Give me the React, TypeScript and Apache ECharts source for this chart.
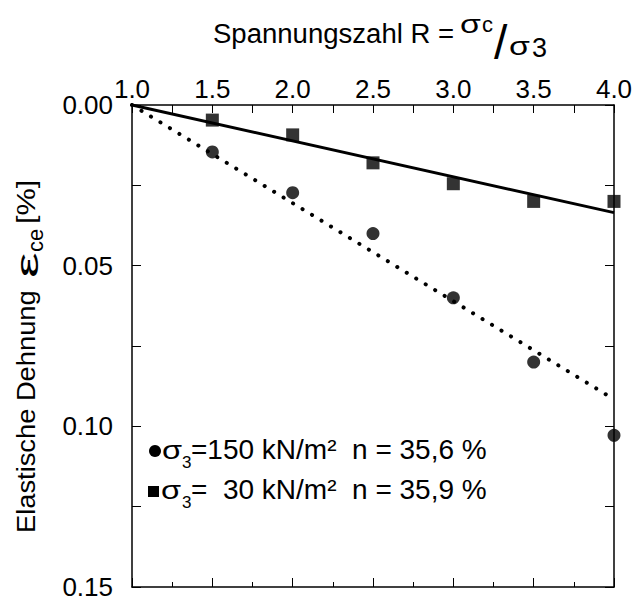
import React, { useEffect, useRef } from "react";
import * as echarts from "echarts";

// Spannungszahl R (x) values
const ratios = [1.5, 2.0, 2.5, 3.0, 3.5, 4.0];
// σ3 = 150 kN/m² (circles), elastic strain [%]
const strain150 = [0.0146, 0.0273, 0.040, 0.060, 0.080, 0.1028];
// σ3 = 30 kN/m² (squares), elastic strain [%]
const strain30 = [0.0047, 0.0093, 0.018, 0.0245, 0.030, 0.030];
// fit lines (endpoints)
const fitX = [1.0, 4.0];
const fit150 = [0.0, 0.0916];
const fit30 = [0.0, 0.0335];
// axis ticks
const xTicks = [1.0, 1.5, 2.0, 2.5, 3.0, 3.5, 4.0];
const yTicks = [0.0, 0.05, 0.1, 0.15];
const legendLabels = ["=150 kN/m²  n = 35,6 %", "=  30 kN/m²  n = 35,9 %"];

const FONT = "'Liberation Sans', Arial, sans-serif";

export default function App() {
  const ref = useRef<HTMLDivElement>(null);
  useEffect(() => {
    if (!ref.current) return;
    const chart = echarts.init(ref.current, null, { renderer: "svg" });
    const black = "#000";
    const t = (text: string, x: number, y: number, size: number, extra: any = {}) => ({
      type: "text",
      x,
      y,
      ...extra,
      style: {
        text,
        fill: black,
        font: `${size}px ${FONT}`,
        textAlign: "left",
        textVerticalAlign: "middle",
      },
    });
    const rot = Math.PI / 2;
    const commonX = {
      type: "value",
      min: xTicks[0],
      max: xTicks[xTicks.length - 1],
      interval: 0.5,
      splitLine: { show: false },
      axisLine: { show: true, onZero: false, lineStyle: { color: black, width: 1.5 } },
    };
    const commonY = {
      type: "value",
      inverse: true,
      min: yTicks[0],
      max: yTicks[yTicks.length - 1],
      interval: 0.05,
      splitLine: { show: false },
      axisLine: { show: true, onZero: false, lineStyle: { color: black, width: 1.5 } },
    };
    chart.setOption({
      animation: false,
      backgroundColor: "#fff",
      grid: { left: 132, right: 25, top: 105, bottom: 11, containLabel: false },
      xAxis: [
        {
          ...commonX,
          position: "top",
          axisTick: { show: true, inside: true, length: 8, lineStyle: { color: black, width: 1 } },
          minorTick: { show: true, splitNumber: 2, length: 8, lineStyle: { color: black, width: 1 } },
          axisLabel: {
            show: true,
            margin: 6,
            color: black,
            fontSize: 26,
            lineHeight: 20,
            fontFamily: FONT,
            formatter: (v: number) => v.toFixed(1),
          },
        },
        {
          ...commonX,
          position: "bottom",
          axisTick: { show: true, inside: true, length: 9, lineStyle: { color: black, width: 1 } },
          minorTick: { show: true, splitNumber: 2, length: 5, lineStyle: { color: black, width: 1 } },
          axisLabel: { show: false },
        },
      ],
      yAxis: [
        {
          ...commonY,
          position: "left",
          axisTick: { show: true, inside: true, length: 9, lineStyle: { color: black, width: 1 } },
          minorTick: { show: true, splitNumber: 2, length: 9, lineStyle: { color: black, width: 1 } },
          axisLabel: {
            show: true,
            margin: 19,
            color: black,
            fontSize: 26,
            lineHeight: 20,
            fontFamily: FONT,
            formatter: (v: number) => v.toFixed(2),
          },
        },
        {
          ...commonY,
          position: "right",
          axisTick: { show: true, inside: true, length: 9, lineStyle: { color: black, width: 1 } },
          minorTick: { show: true, splitNumber: 2, length: 9, lineStyle: { color: black, width: 1 } },
          axisLabel: { show: false },
        },
      ],
      series: [
        {
          type: "line",
          xAxisIndex: 0,
          yAxisIndex: 0,
          data: fitX.map((x, i) => [x, fit30[i]]),
          symbol: "none",
          lineStyle: { color: black, width: 3 },
          silent: true,
        },
        {
          type: "line",
          xAxisIndex: 0,
          yAxisIndex: 0,
          data: fitX.map((x, i) => [x, fit150[i]]),
          symbol: "none",
          lineStyle: { color: black, width: 4, type: [0.1, 11], cap: "round" },
          silent: true,
        },
        {
          type: "scatter",
          xAxisIndex: 0,
          yAxisIndex: 0,
          clip: false,
          data: ratios.map((x, i) => [x, strain150[i]]),
          symbol: "circle",
          symbolSize: 13,
          itemStyle: { color: black },
        },
        {
          type: "scatter",
          xAxisIndex: 0,
          yAxisIndex: 0,
          clip: false,
          data: ratios.map((x, i) => [x, strain30[i]]),
          symbol: "rect",
          symbolSize: 13,
          itemStyle: { color: black },
        },
      ],
      graphic: [
        // title
        t("Spannungszahl R =", 213, 34, 27, { scaleX: 1.02 }),
        t("σ", 460, 24, 26, { scaleX: 1.3 }),
        t("c", 482, 24, 22),
        t("/", 494, 42, 48),
        t("σ", 509, 46, 26, { scaleX: 1.3 }),
        t("3", 532, 48, 27),
        // y axis label (rotated)
        t("Elastische Dehnung", 26, 533, 26, { rotation: rot, scaleX: 1.05 }),
        t("ε", 27, 278, 32, { rotation: rot, scaleX: 1.8 }),
        t("ce", 35, 252, 22, { rotation: rot }),
        t("[%]", 26, 224, 26, { rotation: rot, scaleX: 1.18 }),
        // legend
        { type: "circle", shape: { cx: 155, cy: 451, r: 6 }, style: { fill: black } },
        t("σ", 162, 450, 26, { scaleX: 1.25 }),
        t("3", 182, 462, 17),
        t(legendLabels[0], 191, 449, 28),
        { type: "rect", shape: { x: 148, y: 486, width: 11, height: 11 }, style: { fill: black } },
        t("σ", 161, 490, 26, { scaleX: 1.25 }),
        t("3", 182, 502, 17),
        t(legendLabels[1], 191, 489, 28),
      ],
    });
    return () => chart.dispose();
  }, []);
  return <div ref={ref} style={{ position: "absolute", left: 0, top: 0, width: 639, height: 600 }} />;
}
